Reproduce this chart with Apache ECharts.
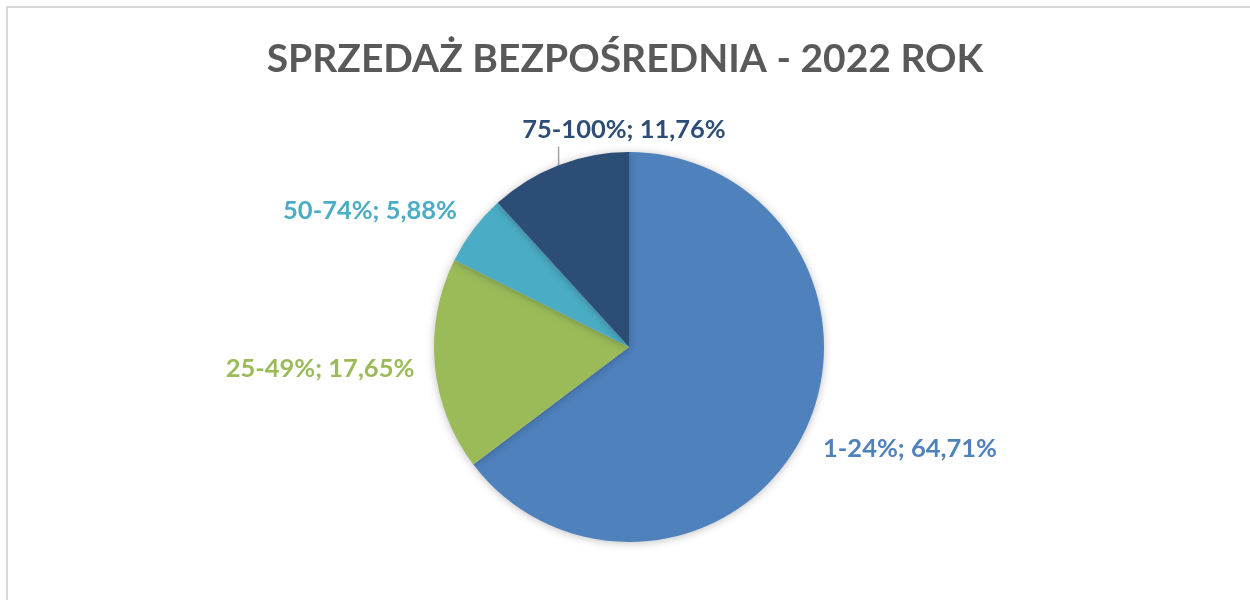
<!DOCTYPE html>
<html>
<head>
<meta charset="utf-8">
<script src="https://cdn.jsdelivr.net/npm/echarts@6/dist/echarts.min.js"></script>
<style>
  html, body { margin: 0; padding: 0; background: #fff; }
  #frame { position: absolute; left: 6px; top: 6px; width: 1260px; height: 620px; border: 2px solid #d9d9d9; box-sizing: border-box; }
  #chart { position: absolute; left: 0; top: 0; width: 1250px; height: 600px; }
</style>
</head>
<body>
<div id="frame"></div>
<div id="chart"></div>
<script>
// data
const title = 'SPRZEDAŻ BEZPOŚREDNIA - 2022 ROK';
const categories = ['1-24%', '25-49%', '50-74%', '75-100%'];
const shares = [64.71, 17.65, 5.88, 11.76];
const colors = ['#4f81bd', '#9bbb59', '#4bacc6', '#2c4d75'];

// where Excel dropped each label (centre of text)
const labelSpots = [[910, 449], [320, 369], [370, 211], [624, 130]];

const fontFamily = 'Lato, "Open Sans", sans-serif';
const labelSize = 25.5;

const chart = echarts.init(document.getElementById('chart'));

chart.setOption({
  animation: false,
  title: {
    text: title,
    left: 'center',
    top: 35,
    textStyle: { fontFamily: fontFamily, fontSize: 39, fontWeight: 'bold', color: '#595959' }
  },
  series: [{
    type: 'pie',
    center: [629, 347],
    radius: 195,
    startAngle: 90,
    clockwise: true,
    itemStyle: { shadowBlur: 8, shadowColor: 'rgba(0,0,0,0.25)', shadowOffsetY: 1 },
    label: {
      show: true,
      position: 'outside',
      fontFamily: fontFamily,
      fontSize: labelSize,
      fontWeight: 'bold',
      formatter: p => p.name + '; ' + p.value.toFixed(2).replace('.', ',') + '%'
    },
    labelLine: { show: false, lineStyle: { color: '#a6a6a6', width: 1.5 } },
    labelLayout: p => {
      const spot = labelSpots[p.dataIndex];
      const out = { x: spot[0], y: spot[1], align: 'center', verticalAlign: 'middle' };
      // straight up leader from the slice edge to the label's bottom
      if (p.labelLinePoints) {
        const a = p.labelLinePoints[0];
        const bottom = spot[1] + labelSize * 0.65;
        out.labelLinePoints = [[a[0], a[1]], [a[0], bottom], [a[0], bottom]];
      }
      return out;
    },
    data: categories.map((c, i) => ({
      name: c,
      value: shares[i],
      itemStyle: { color: colors[i] },
      label: { color: colors[i] },
      labelLine: { show: i === 3, length: 5, length2: 0 }
    }))
  }]
});
</script>
</body>
</html>
